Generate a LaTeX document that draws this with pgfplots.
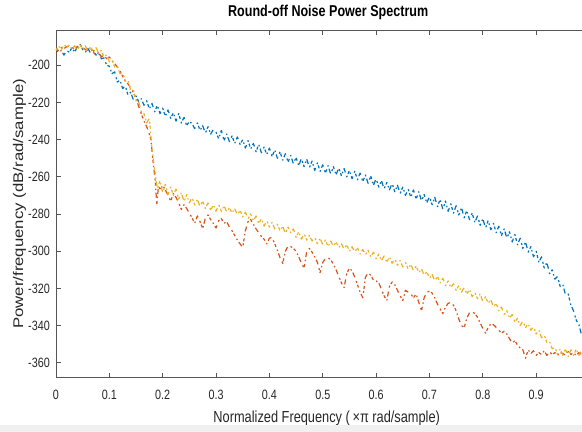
\documentclass[border=0pt]{standalone}
\usepackage{pgfplots}
\pgfplotsset{compat=1.18}
\usepackage{fontspec}
\setmainfont{Liberation Sans}[FakeStretch=0.8]
\newfontfamily\ylabfont{Liberation Sans}[FakeStretch=1.2]
\definecolor{mblue}{HTML}{0072BD}
\definecolor{morange}{HTML}{D95319}
\definecolor{myellow}{HTML}{EDB120}
\definecolor{axcol}{HTML}{555555}
\definecolor{txtcol}{HTML}{262626}
\begin{document}
\begin{tikzpicture}
\path (0pt,0pt) rectangle (582pt,432pt);
\begin{axis}[
  at={(56pt,54pt)}, anchor=south west,
  width=526pt, height=348pt, scale only axis,
  xmin=0, xmax=0.985, ymin=-368, ymax=-181,
  separate axis lines,
  axis x line*=box, axis y line*=left,
  xtick={0,0.1,0.2,0.3,0.4,0.5,0.6,0.7,0.8,0.9},
  xticklabels={0,0.1,0.2,0.3,0.4,0.5,0.6,0.7,0.8,0.9},
  ytick={-360,-340,-320,-300,-280,-260,-240,-220,-200},
  yticklabels={-360,-340,-320,-300,-280,-260,-240,-220,-200},
  tick align=inside, major tick length=5pt,
  axis line style={draw=axcol, line width=0.9pt, -},
  every tick/.style={draw=axcol, line width=0.8pt},
  xticklabel style={font=\fontsize{13.5}{16}\selectfont, text=txtcol, inner sep=0pt, anchor=north, yshift=-12pt},
  yticklabel style={font=\fontsize{13.5}{16}\selectfont, text=txtcol, inner sep=0pt, anchor=east, xshift=-6pt},
  title={Round-off Noise Power Spectrum},
  title style={font=\bfseries\fontsize{15.7}{18}\selectfont, text=black, at={(axis description cs:0.5179,1.0201)}, anchor=base, inner sep=0pt},
  xlabel={Normalized Frequency (\,×π rad/sample)},
  xlabel style={font=\fontsize{16}{19}\selectfont, text=txtcol, at={(axis description cs:0.5152,-0.1293)}, anchor=base, inner sep=0pt},
  ylabel={Power/frequency (dB/rad/sample)},
  ylabel style={font=\ylabfont\fontsize{14}{17}\selectfont, text=txtcol, at={(axis description cs:-0.0627,0.5)}, anchor=base, inner sep=0pt},
  every axis plot/.append style={line width=1.2pt, line join=round, dash pattern={on 3pt off 3pt on 1.5pt off 2.5pt on 5pt off 4pt on 2pt off 2pt}},
]
\addplot[mblue] table {
0.000 -191.5
0.005 -193.0
0.010 -192.0
0.015 -194.5
0.020 -192.0
0.025 -193.0
0.030 -190.5
0.035 -193.0
0.040 -190.0
0.045 -188.5
0.050 -191.5
0.055 -193.0
0.060 -191.0
0.065 -193.5
0.070 -192.0
0.075 -194.5
0.080 -193.5
0.085 -196.5
0.090 -196.0
0.095 -200.0
0.100 -200.5
0.105 -204.5
0.110 -203.5
0.115 -209.0
0.120 -208.0
0.125 -212.5
0.130 -211.0
0.135 -216.0
0.140 -214.5
0.145 -218.5
0.150 -216.5
0.155 -219.5
0.160 -218.0
0.165 -221.5
0.170 -219.0
0.175 -223.5
0.180 -220.5
0.185 -225.0
0.190 -221.5
0.195 -226.0
0.200 -223.0
0.205 -227.5
0.210 -224.0
0.215 -228.5
0.220 -225.5
0.225 -230.0
0.230 -226.0
0.235 -231.0
0.240 -228.0
0.245 -232.5
0.250 -230.0
0.255 -231.5
0.260 -234.0
0.265 -231.0
0.270 -235.0
0.275 -232.5
0.280 -236.5
0.285 -233.0
0.290 -237.0
0.295 -234.5
0.300 -236.0
0.305 -239.5
0.310 -235.0
0.315 -240.5
0.320 -237.0
0.325 -241.0
0.330 -238.0
0.335 -242.0
0.340 -238.5
0.345 -242.5
0.350 -240.0
0.355 -244.5
0.360 -240.5
0.365 -245.0
0.370 -242.0
0.375 -246.5
0.380 -242.5
0.385 -247.0
0.390 -244.0
0.395 -248.0
0.400 -244.5
0.405 -249.0
0.410 -245.5
0.415 -250.0
0.420 -246.5
0.425 -251.0
0.430 -247.5
0.435 -252.0
0.440 -248.5
0.445 -253.0
0.450 -249.5
0.455 -254.0
0.460 -250.0
0.465 -254.5
0.470 -250.5
0.475 -255.0
0.480 -251.5
0.485 -256.5
0.490 -252.5
0.495 -257.0
0.500 -253.5
0.505 -258.0
0.510 -254.0
0.515 -258.5
0.520 -254.5
0.525 -259.0
0.530 -255.0
0.535 -259.5
0.540 -255.5
0.545 -260.0
0.550 -256.5
0.555 -261.0
0.560 -257.0
0.565 -261.5
0.570 -258.0
0.575 -262.5
0.580 -259.0
0.585 -263.5
0.590 -259.5
0.595 -264.5
0.600 -261.0
0.605 -265.5
0.610 -262.0
0.615 -266.5
0.620 -263.0
0.625 -267.0
0.630 -263.5
0.635 -268.0
0.640 -264.5
0.645 -269.0
0.650 -265.5
0.655 -270.0
0.660 -266.5
0.665 -271.0
0.670 -267.0
0.675 -272.0
0.680 -268.0
0.685 -273.0
0.690 -269.5
0.695 -274.0
0.700 -270.5
0.705 -275.0
0.710 -271.0
0.715 -276.0
0.720 -272.0
0.725 -277.5
0.730 -273.0
0.735 -278.5
0.740 -274.5
0.745 -279.5
0.750 -275.5
0.755 -280.5
0.760 -276.5
0.765 -282.0
0.770 -278.0
0.775 -283.0
0.780 -279.5
0.785 -284.5
0.790 -281.0
0.795 -286.0
0.800 -282.5
0.805 -287.5
0.810 -283.5
0.815 -288.5
0.820 -285.0
0.825 -290.0
0.830 -286.5
0.835 -291.5
0.840 -288.0
0.845 -293.0
0.850 -289.5
0.855 -295.0
0.860 -291.0
0.865 -296.5
0.870 -293.0
0.875 -298.5
0.880 -295.0
0.885 -300.5
0.890 -297.5
0.895 -303.0
0.900 -300.0
0.905 -306.0
0.910 -303.0
0.915 -309.0
0.920 -306.0
0.925 -312.0
0.930 -310.0
0.935 -315.0
0.940 -313.5
0.945 -319.0
0.950 -318.0
0.955 -323.5
0.960 -323.0
0.965 -329.0
0.970 -332.0
0.975 -337.0
0.980 -339.5
0.985 -345.0
};
\addplot[morange] table {
0.000 -191.5
0.005 -192.0
0.010 -190.5
0.015 -191.0
0.020 -190.0
0.025 -189.5
0.030 -190.5
0.035 -191.0
0.040 -190.0
0.045 -189.0
0.050 -190.5
0.055 -191.5
0.060 -192.0
0.065 -191.0
0.070 -193.0
0.075 -194.5
0.080 -193.0
0.085 -195.5
0.090 -194.5
0.095 -196.5
0.100 -195.5
0.105 -197.5
0.110 -199.0
0.115 -201.0
0.120 -203.0
0.125 -206.0
0.130 -208.5
0.135 -210.0
0.140 -212.0
0.145 -214.5
0.150 -218.0
0.155 -222.0
0.160 -226.0
0.165 -230.0
0.170 -233.0
0.175 -237.0
0.178 -240.0
0.182 -252.0
0.186 -262.0
0.189 -275.0
0.192 -265.0
0.196 -267.0
0.200 -264.5
0.205 -267.0
0.210 -270.0
0.215 -273.0
0.220 -269.0
0.225 -271.0
0.230 -274.0
0.235 -277.5
0.240 -275.0
0.245 -277.0
0.250 -279.5
0.255 -282.0
0.260 -285.0
0.265 -281.0
0.270 -284.0
0.275 -288.0
0.280 -282.0
0.285 -280.5
0.290 -283.0
0.295 -285.0
0.300 -287.5
0.305 -283.5
0.310 -282.5
0.315 -285.0
0.320 -284.0
0.325 -287.0
0.330 -289.0
0.335 -291.5
0.340 -294.0
0.345 -296.0
0.350 -298.0
0.355 -289.0
0.360 -284.0
0.365 -283.0
0.370 -285.5
0.375 -288.0
0.380 -290.0
0.385 -292.0
0.390 -293.5
0.395 -296.0
0.400 -293.0
0.405 -292.5
0.410 -296.0
0.415 -299.5
0.420 -303.5
0.425 -306.5
0.430 -300.0
0.435 -297.0
0.440 -297.5
0.445 -298.5
0.450 -300.0
0.455 -303.0
0.460 -306.5
0.465 -309.0
0.470 -300.0
0.475 -298.5
0.480 -300.5
0.485 -303.0
0.490 -306.0
0.495 -311.5
0.500 -306.0
0.505 -304.0
0.510 -303.5
0.515 -304.5
0.520 -307.0
0.525 -310.0
0.530 -313.5
0.535 -317.0
0.540 -319.5
0.545 -312.0
0.550 -309.0
0.555 -310.5
0.560 -314.0
0.565 -318.0
0.570 -322.0
0.575 -325.0
0.580 -314.0
0.585 -311.5
0.590 -313.0
0.595 -315.5
0.600 -316.0
0.605 -317.0
0.610 -320.5
0.615 -324.0
0.620 -326.5
0.625 -319.0
0.630 -316.5
0.635 -318.0
0.640 -321.0
0.645 -324.0
0.650 -326.5
0.655 -321.0
0.660 -322.0
0.665 -323.0
0.670 -325.0
0.675 -323.0
0.680 -327.5
0.685 -332.0
0.690 -325.0
0.695 -322.0
0.700 -321.5
0.705 -322.5
0.710 -325.0
0.715 -328.5
0.720 -331.0
0.725 -333.5
0.730 -330.0
0.735 -328.0
0.740 -327.5
0.745 -329.0
0.750 -332.0
0.755 -336.5
0.760 -340.0
0.765 -341.0
0.770 -336.0
0.775 -333.0
0.780 -332.5
0.785 -333.5
0.790 -335.5
0.795 -338.5
0.800 -341.5
0.805 -344.0
0.810 -341.0
0.815 -339.0
0.820 -339.5
0.825 -341.0
0.830 -342.5
0.835 -344.0
0.840 -343.0
0.845 -344.5
0.850 -347.0
0.855 -349.5
0.860 -348.0
0.865 -350.5
0.870 -352.0
0.875 -353.0
0.880 -357.5
0.885 -353.0
0.890 -355.0
0.895 -353.5
0.900 -356.0
0.905 -354.5
0.910 -355.5
0.915 -353.5
0.920 -356.0
0.925 -354.0
0.930 -355.5
0.935 -354.5
0.940 -356.0
0.945 -354.5
0.950 -355.0
0.955 -356.0
0.960 -354.0
0.965 -355.5
0.970 -354.5
0.975 -356.0
0.980 -354.5
0.985 -355.5
};
\addplot[myellow] table {
0.000 -192.0
0.005 -189.5
0.010 -192.0
0.015 -188.5
0.020 -190.5
0.025 -189.0
0.030 -191.0
0.035 -189.5
0.040 -192.0
0.045 -189.0
0.050 -191.5
0.055 -189.5
0.060 -192.5
0.065 -190.0
0.070 -193.0
0.075 -190.5
0.080 -193.5
0.085 -192.0
0.090 -195.5
0.095 -194.5
0.100 -198.0
0.105 -197.0
0.110 -201.0
0.115 -200.5
0.120 -204.5
0.125 -204.0
0.130 -208.5
0.135 -208.0
0.140 -213.5
0.145 -213.0
0.150 -219.0
0.155 -219.5
0.160 -225.0
0.165 -226.0
0.170 -231.0
0.175 -228.5
0.180 -245.0
0.185 -256.0
0.190 -266.5
0.195 -262.0
0.200 -268.5
0.205 -264.0
0.210 -269.5
0.215 -265.5
0.220 -270.0
0.225 -266.5
0.230 -272.0
0.235 -268.5
0.240 -273.5
0.245 -269.5
0.250 -274.0
0.255 -271.0
0.260 -275.0
0.265 -272.0
0.270 -276.0
0.275 -273.0
0.280 -277.0
0.285 -274.0
0.290 -278.0
0.295 -275.0
0.300 -278.5
0.305 -275.0
0.310 -278.5
0.315 -275.5
0.320 -279.0
0.325 -276.5
0.330 -279.5
0.335 -277.0
0.340 -280.5
0.345 -278.0
0.350 -281.5
0.355 -279.0
0.360 -282.5
0.365 -280.0
0.370 -283.5
0.375 -281.0
0.380 -285.0
0.385 -282.5
0.390 -286.5
0.395 -283.5
0.400 -287.0
0.405 -284.5
0.410 -288.0
0.415 -285.5
0.420 -289.0
0.425 -286.5
0.430 -290.5
0.435 -287.0
0.440 -290.0
0.445 -288.0
0.450 -292.5
0.455 -289.5
0.460 -293.5
0.465 -290.5
0.470 -294.0
0.475 -291.5
0.480 -294.5
0.485 -292.5
0.490 -296.0
0.495 -293.0
0.500 -296.5
0.505 -294.0
0.510 -297.5
0.515 -294.5
0.520 -297.5
0.525 -295.0
0.530 -298.0
0.535 -296.0
0.540 -299.0
0.545 -296.5
0.550 -300.0
0.555 -297.5
0.560 -300.5
0.565 -298.0
0.570 -301.5
0.575 -299.0
0.580 -302.0
0.585 -299.5
0.590 -303.0
0.595 -300.5
0.600 -304.0
0.605 -301.5
0.610 -305.0
0.615 -302.5
0.620 -306.0
0.625 -303.0
0.630 -306.5
0.635 -304.0
0.640 -307.5
0.645 -305.0
0.650 -308.5
0.655 -306.0
0.660 -309.5
0.665 -307.0
0.670 -310.5
0.675 -308.0
0.680 -311.5
0.685 -309.5
0.690 -313.0
0.695 -311.0
0.700 -314.5
0.705 -312.5
0.710 -316.0
0.715 -313.5
0.720 -317.0
0.725 -314.5
0.730 -318.5
0.735 -316.0
0.740 -319.5
0.745 -317.5
0.750 -321.0
0.755 -318.5
0.760 -322.0
0.765 -319.5
0.770 -323.0
0.775 -320.5
0.780 -324.5
0.785 -322.0
0.790 -325.5
0.795 -323.0
0.800 -327.0
0.805 -324.5
0.810 -328.0
0.815 -326.0
0.820 -330.0
0.825 -328.0
0.830 -332.0
0.835 -330.0
0.840 -334.0
0.845 -332.0
0.850 -336.0
0.855 -334.0
0.860 -338.0
0.865 -336.0
0.870 -340.0
0.875 -337.5
0.880 -341.0
0.885 -339.0
0.890 -342.5
0.895 -340.5
0.900 -344.5
0.905 -342.5
0.910 -346.5
0.915 -345.0
0.920 -349.0
0.925 -348.5
0.930 -352.5
0.935 -351.5
0.940 -355.5
0.945 -352.5
0.950 -356.0
0.955 -352.5
0.960 -356.5
0.965 -353.0
0.970 -356.0
0.975 -352.5
0.980 -356.0
0.985 -353.5
};
\end{axis}
\fill[black!6] (0pt,0pt) rectangle (582pt,7pt);
\end{tikzpicture}
\end{document}
